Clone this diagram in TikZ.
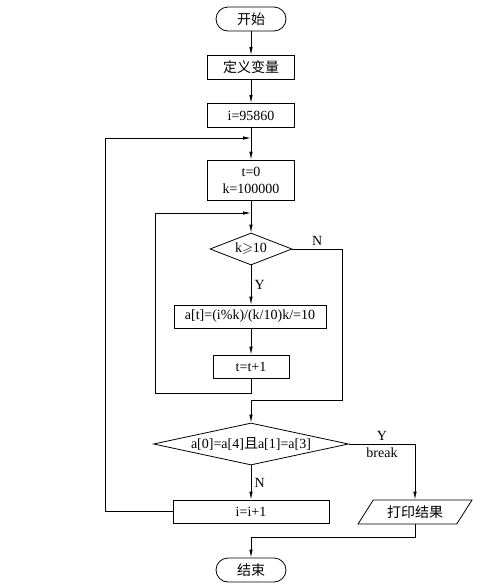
\documentclass[tikz,border=0pt]{standalone}
\usepackage{amssymb}
\usepackage{fontspec}
\setmainfont{Liberation Serif}
\newfontfamily\cjk{Noto Sans CJK SC}
\usetikzlibrary{arrows.meta,shapes.geometric}

\begin{document}
\begin{tikzpicture}[x=1pt, y=-1pt, line width=0.8pt,
	every node/.style={font=\fontsize{14}{17}\selectfont},
	>={Latex[length=8pt,width=3.5pt]},
	proc/.style={draw, rectangle, minimum height=24pt, inner sep=2pt},
	term/.style={draw, rectangle, rounded corners=12pt, minimum width=70pt, minimum height=24pt},
	cond/.style={draw, diamond, inner sep=0pt},
	io/.style={draw, trapezium, trapezium left angle=52, trapezium right angle=128, trapezium stretches body, minimum width=114pt, minimum height=24pt}]
	\useasboundingbox (0,0) rectangle (498,587);
	\node[term] (start) at (251,19) {\cjk 开始};
	\node[proc, minimum width=87pt] (def) at (251,67.5) {\cjk 定义变量};
	\node[proc, minimum width=87pt] (init) at (251,115.5) {i=95860};
	\node[proc, minimum width=87pt, minimum height=40pt, align=center] (tk) at (251,180) {t=0\\k=100000};
	\node[cond, aspect=2.6, minimum width=82pt, minimum height=32pt] (d1) at (251,249) {k$\geqslant$10};
	\node[proc, minimum width=152pt, minimum height=23pt] (at) at (250,316.5) {a[t]=(i\%k)/(k/10)k/=10};
	\node[proc, minimum width=76pt, minimum height=23pt] (tt) at (251,366.5) {t=t+1};
	\node[cond, aspect=4.6, minimum width=195pt, minimum height=42pt] (d2) at (251,444) {a[0]=a[4]{\cjk 且}a[1]=a[3]};
	\node[proc, minimum width=156pt, minimum height=23pt] (inc) at (251,511.5) {i=i+1};
	\node[io] (print) at (415,512) {\cjk 打印结果};
	\node[term] (end) at (251,570) {\cjk 结束};
	\coordinate (j0) at (251,138);
	\coordinate (l0) at (105,138);
	\coordinate (j1) at (251,213);
	\coordinate (l1) at (155,393);
	\coordinate (r1) at (342,400);
	\coordinate (b1) at (251,537);
	\draw[->] (start) -- (def);
	\draw[->] (def) -- (init);
	\draw[->] (init) -- (tk);
	\draw[->] (tk) -- (d1);
	\draw[->] (d1.south) -- node[right] {Y} (d1.south |- at.north);
	\draw[->] (at.south -| tt.north) -- (tt.north);
	\draw[->] (tt.south) |- (l1) |- (j1);
	\draw[->] (d1.east) -- node[above] {N} (d1.east -| r1) -- (r1) -| (d2.north);
	\draw[->] (d2.south) -- node[right] {N} (inc.north);
	\draw[->] (inc.west) -| (l0) -- (j0);
	\draw[->] (d2.east) -- node[above] {Y} node[below] {break} (d2.east -| print.north) -- (print.north);
	\draw[->] (print.south) |- (b1) -- (end.north);
\end{tikzpicture}
\end{document}
